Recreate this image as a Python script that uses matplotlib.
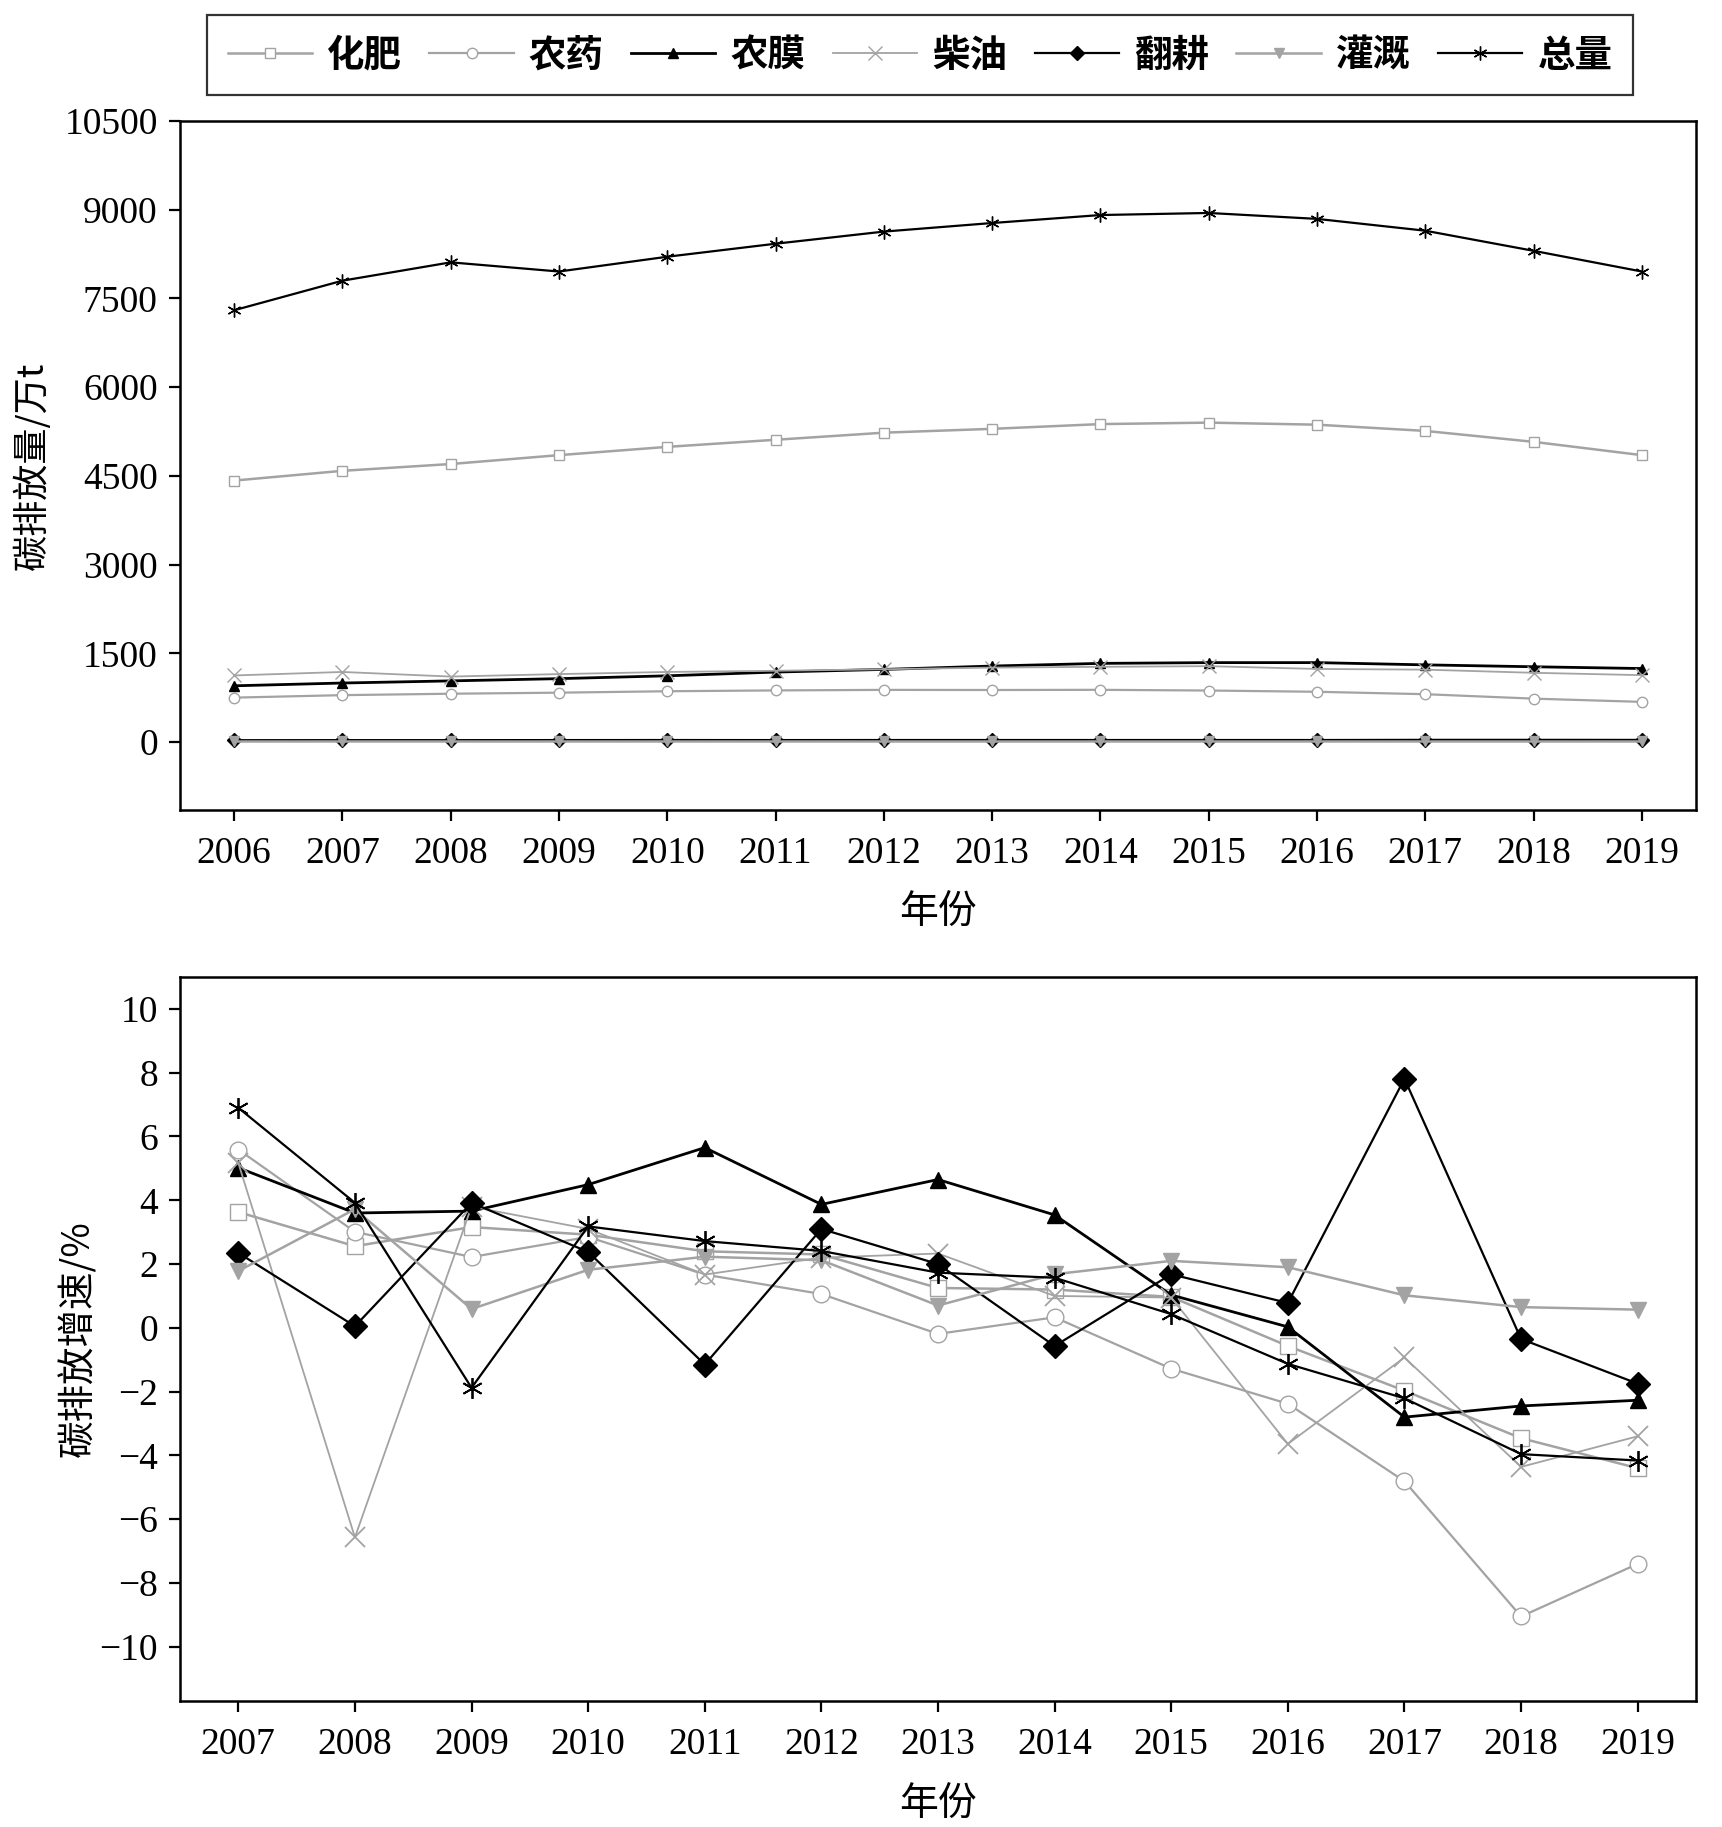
import numpy as np
import matplotlib
matplotlib.use("Agg")
import matplotlib.pyplot as plt

plt.rcParams['font.family'] = ['Liberation Serif', 'DejaVu Serif']
plt.rcParams['axes.unicode_minus'] = True

CJK = ['Noto Sans CJK SC', 'DejaVu Sans']

# top panel: emissions (10^4 t)
years_top = [2006, 2007, 2008, 2009, 2010, 2011, 2012, 2013, 2014, 2015, 2016, 2017, 2018, 2019]
fert_top = [4420, 4585, 4700, 4850, 4990, 5110, 5230, 5295, 5375, 5400, 5365, 5260, 5075, 4850]
pest_top = [750, 792, 816, 834, 858, 872, 881, 879, 882, 870, 849, 808, 733, 678]
film_top = [950, 997, 1033, 1071, 1119, 1182, 1227, 1284, 1329, 1342, 1342, 1304, 1272, 1242]
diesel_top = [1125, 1184, 1106, 1148, 1184, 1204, 1230, 1258, 1271, 1282, 1235, 1223, 1170, 1130]
tillage_top = [30, 31, 31, 32, 33, 32, 33, 33, 33, 33, 33, 36, 36, 35]
irrig_top = [10, 10, 10, 10, 10, 10, 10, 10, 10, 10, 10, 10, 10, 10]
total_top = [7300, 7800, 8110, 7955, 8205, 8425, 8630, 8775, 8910, 8945, 8845, 8645, 8305, 7955]

# bottom panel: growth rate (%)
years_bot = [2007, 2008, 2009, 2010, 2011, 2012, 2013, 2014, 2015, 2016, 2017, 2018, 2019]
fert_bot = [3.63, 2.56, 3.16, 2.92, 2.4, 2.3, 1.25, 1.2, 0.97, -0.57, -1.97, -3.46, -4.4]
pest_bot = [5.59, 3.01, 2.22, 2.85, 1.67, 1.06, -0.19, 0.33, -1.28, -2.38, -4.81, -9.05, -7.4]
film_bot = [5.02, 3.6, 3.66, 4.49, 5.65, 3.87, 4.65, 3.54, 1.03, 0.03, -2.8, -2.45, -2.27]
diesel_bot = [5.17, -6.57, 3.8, 3.1, 1.67, 2.2, 2.33, 1.0, 0.95, -3.64, -0.93, -4.36, -3.4]
tillage_bot = [2.35, 0.05, 3.92, 2.38, -1.15, 3.1, 2.0, -0.57, 1.68, 0.78, 7.81, -0.35, -1.75]
irrig_bot = [1.78, 3.72, 0.59, 1.82, 2.23, 2.12, 0.7, 1.68, 2.1, 1.9, 1.02, 0.65, 0.57]
total_bot = [6.9, 3.92, -1.88, 3.18, 2.72, 2.41, 1.73, 1.57, 0.43, -1.13, -2.21, -3.96, -4.16]

labels = ['化肥', '农药', '农膜', '柴油', '翻耕', '灌溉', '总量']

GREY = '#a3a3a3'
BLACK = '#000000'
AST = (6, 2, 0)

# colour, marker, face, line width
styles = [
    (GREY, 's', 'white', 1.8),
    (GREY, 'o', 'white', 1.6),
    (BLACK, '^', BLACK, 2.0),
    (GREY, 'x', GREY, 1.3),
    (BLACK, 'D', BLACK, 1.6),
    (GREY, 'v', GREY, 1.8),
    (BLACK, AST, BLACK, 1.6),
]

fig = plt.figure(figsize=(17.22, 18.27), dpi=100)
W, H = 1722, 1827

ax1 = fig.add_axes([180 / W, 1 - 810 / H, 1516 / W, 689 / H])
ax2 = fig.add_axes([180 / W, 1 - 1701 / H, 1516 / W, 724 / H])

top_series = [fert_top, pest_top, film_top, diesel_top, tillage_top, irrig_top, total_top]
bot_series = [fert_bot, pest_bot, film_bot, diesel_bot, tillage_bot, irrig_bot, total_bot]

handles = []
for lab, ys, st in zip(labels, top_series, styles):
    c, m, fc, lw = st
    ms = 10 if m in ('x', AST) else 7.5
    h, = ax1.plot(years_top, ys, color=c, lw=lw, marker=m, ms=ms,
                  mfc=fc, mec=c, mew=1.0, label=lab)
    handles.append(h)

for ys, st in zip(bot_series, styles):
    c, m, fc, lw = st
    ms = 15 if m in ('x', AST) else 12
    mew = 1.3 if m in ('x', AST) else 1.0
    ax2.plot(years_bot, ys, color=c, lw=lw, marker=m, ms=ms,
             mfc=fc, mec=c, mew=mew)

ax1.set_xlim(2005.5, 2019.5)
ax1.set_ylim(-1150, 10500)
ax1.set_xticks(years_top)
ax1.set_yticks([0, 1500, 3000, 4500, 6000, 7500, 9000, 10500])

ax2.set_xlim(2006.5, 2019.5)
ax2.set_ylim(-11.7, 11.0)
ax2.set_xticks(years_bot)
ax2.set_yticks(np.arange(-10, 11, 2))

for ax in (ax1, ax2):
    for sp in ax.spines.values():
        sp.set_linewidth(1.8)
    ax.tick_params(direction='out', length=8, width=1.6, labelsize=27, pad=8)
    ax.tick_params(axis='x', pad=11)

ax1.set_ylabel('碳排放量/万t', family=CJK, fontsize=26, labelpad=10)
ax1.set_xlabel('年份', family=CJK, fontsize=28, labelpad=15)
ax2.set_ylabel('碳排放增速/%', family=CJK, fontsize=27, labelpad=1)
ax2.set_xlabel('年份', family=CJK, fontsize=28, labelpad=16)

leg = fig.legend(handles, labels, loc='center', ncol=7,
                 bbox_to_anchor=(920 / W, 1 - 55 / H),
                 prop={'family': CJK, 'size': 27, 'weight': 'bold'},
                 frameon=True, fancybox=False, edgecolor='black',
                 handlelength=2.25, handletextpad=0.4, columnspacing=0.73,
                 borderpad=0.55, borderaxespad=0)
leg.get_frame().set_linewidth(1.6)

fig.savefig('out.png', dpi=100)
